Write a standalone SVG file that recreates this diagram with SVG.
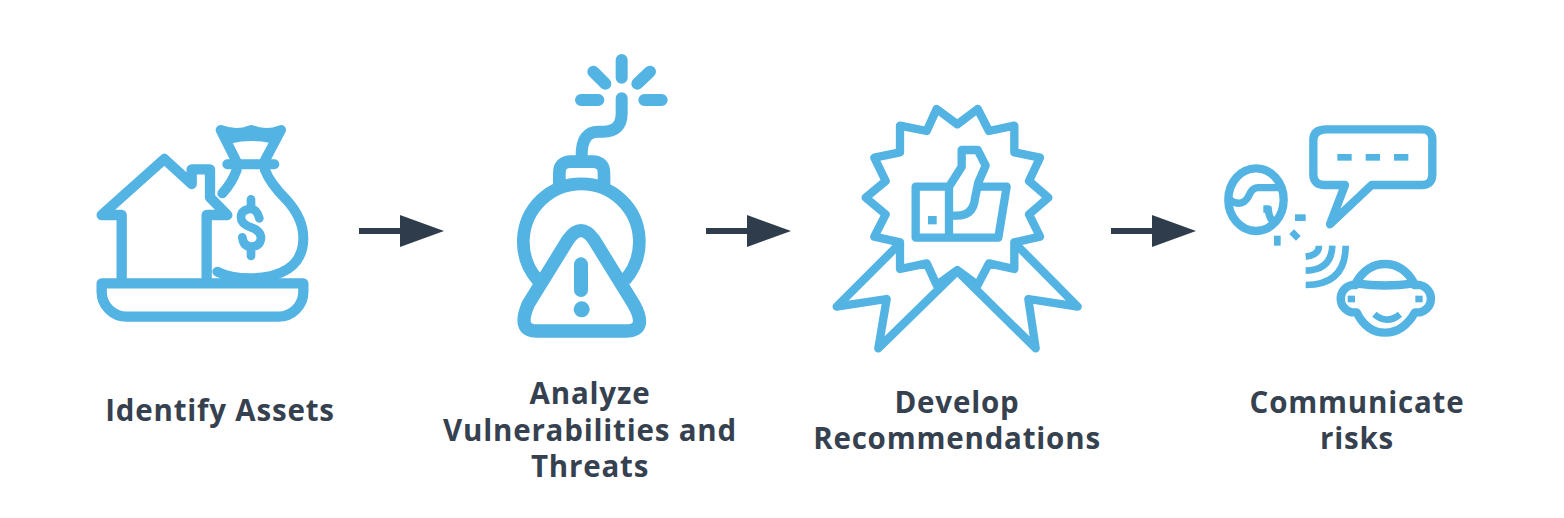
<svg xmlns="http://www.w3.org/2000/svg" width="1564" height="518" viewBox="0 0 1564 518">
<defs><filter id="soft" x="-5%" y="-5%" width="110%" height="110%"><feGaussianBlur stdDeviation=".55"/></filter></defs>
<style>
.i{fill:none;stroke:#52b3e3;stroke-linecap:round;stroke-linejoin:round}
.f{fill:#52b3e3;stroke:none}
.b{stroke-linecap:butt}
.a{fill:none;stroke:#2f3c4b;stroke-width:6}
.h{fill:#2f3c4b}
text{font-family:"Open Sans","Noto Sans","Liberation Sans",sans-serif;font-weight:700;font-size:29.5px;letter-spacing:.8px;fill:#36414f;text-anchor:middle}
</style>
<rect width="1564" height="518" fill="#fff"/>
<g id="connectors">
<path class="a" d="M359,231H404"/><path class="h" d="M400,215L444,231L400,247Z"/>
<path class="a" d="M706,231H751"/><path class="h" d="M747,215L791,231L747,247Z"/>
<path class="a" d="M1111,231H1156"/><path class="h" d="M1152,215L1196,231L1152,247Z"/>
</g>
<g id="identify-assets" filter="url(#soft)">
<g transform="translate(80,110) scale(.33333)">
<path class="i" stroke-width="31" d="M125,505V315H65L253,147L335,222V178H390V262L442,315H380V505"/>
<path class="i" stroke-width="31" d="M65,520H670V545A75,75 0 0 1 595,620H140A75,75 0 0 1 65,545Z"/>
<path class="f" d="M418,55Q470,78 513,55Q560,78 607,55L575,100Q513,86 455,100Z"/>
<path class="i" stroke-width="30" d="M422,60Q470,78 513,60Q560,78 603,60L550,160M422,60L472,160M442,163H583M470,180Q455,220 427,250M555,180Q570,220 620,270Q670,325 670,385C670,470 600,505 510,505C470,505 440,500 412,485"/>
<path class="i" stroke-width="26" d="M513,268V292M513,415V438M538,325Q530,295 510,297Q483,300 483,322Q483,342 513,352Q543,362 543,385Q540,410 513,410Q490,410 487,382"/>
</g>
</g>
<g id="analyze-vulnerabilities" filter="url(#soft)">
<g transform="translate(500,45) scale(.33333)">
<path class="i" stroke-width="36" d="M365,45V98M280,80L316,116M450,80L412,116M243,165H295M433,165H485M365,160V205Q365,260 310,260H295Q245,260 245,330"/>
<path class="i b" stroke-width="38" d="M178,425V385Q178,350 213,350H277Q312,350 312,385V425M113,705A174,174 0 1 1 375,705"/>
<path class="i" stroke-width="40" d="M205,583C230,548 256,548 281,583L401,777Q446,858 376,858H110Q50,858 85,777Z"/>
<path class="i" stroke-width="42" d="M243,658V735"/>
<circle class="f" cx="245" cy="793" r="24"/>
</g>
</g>
<g id="develop-recommendations" filter="url(#soft)">
<g transform="translate(825,95) scale(.33333)">
<path class="i" stroke-width="25" d="M335,42L397,88L458,42L492,108L568,92V172L645,188L612,258L670,308L612,358L645,425L568,442V522L492,505L458,570L397,525L335,570L305,505L225,522V442L148,425L182,358L122,308L182,258L148,188L225,172V92L305,108Z"/>
<path class="i" stroke-width="25" d="M215,455L35,635L185,612L160,760L397,528L632,760L610,612L758,635L585,460"/>
<path class="i" stroke-width="25" d="M372,275H272V428H520L545,275H460M372,275V428M372,275L410,215V165H458L482,212L460,262L450,310Q445,362 395,362H372"/>
<rect class="f" x="309" y="363" width="26" height="25"/>
</g>
</g>
<g id="communicate-risks" filter="url(#soft)">
<g transform="translate(1215,115) scale(.33333)">
<path class="i" stroke-width="25" d="M335,43H620Q652,43 652,75V178Q652,210 620,210H470L345,328L390,210H330Q295,210 295,178V75Q295,43 335,43Z"/>
<rect class="f" x="367" y="117" width="43" height="20"/><rect class="f" x="452" y="117" width="43" height="20"/><rect class="f" x="537" y="117" width="43" height="20"/>
<ellipse class="i" stroke-width="25" cx="123" cy="254" rx="83" ry="94"/>
<path class="i b" stroke-width="22" d="M45,255Q85,282 105,235Q113,218 130,218H195M145,282H160Q160,312 185,330"/>
<rect class="f" x="240" y="298" width="32" height="20"/><rect class="f" x="177" y="362" width="20" height="30"/>
<rect class="f" x="-14" y="-10" width="28" height="20" transform="translate(240,360) rotate(45)"/>
<path class="i b" stroke-width="20" d="M272,425Q312,420 312,392M272,467Q350,465 352,392M272,510Q392,510 392,392"/>
<path class="i" stroke-width="25" d="M422,505Q455,447 510,447Q565,447 598,505Q510,518 422,505ZM422,510H410A42,42 0 0 0 410,592H425Q455,653 510,653Q565,653 600,592H615A42,42 0 0 0 615,510H598"/>
<path class="i b" stroke-width="20" d="M478,598Q515,630 555,598"/>
<rect class="f" x="398" y="542" width="22" height="20"/><rect class="f" x="601" y="542" width="22" height="20"/>
</g>
</g>
<g id="labels">
<text x="220" y="421">Identify Assets</text>
<text x="590" y="404">Analyze</text>
<text x="590" y="441">Vulnerabilities and</text>
<text x="590" y="477">Threats</text>
<text x="957" y="413">Develop</text>
<text x="957" y="449">Recommendations</text>
<text x="1357" y="413">Communicate</text>
<text x="1357" y="449">risks</text>
</g>
</svg>
